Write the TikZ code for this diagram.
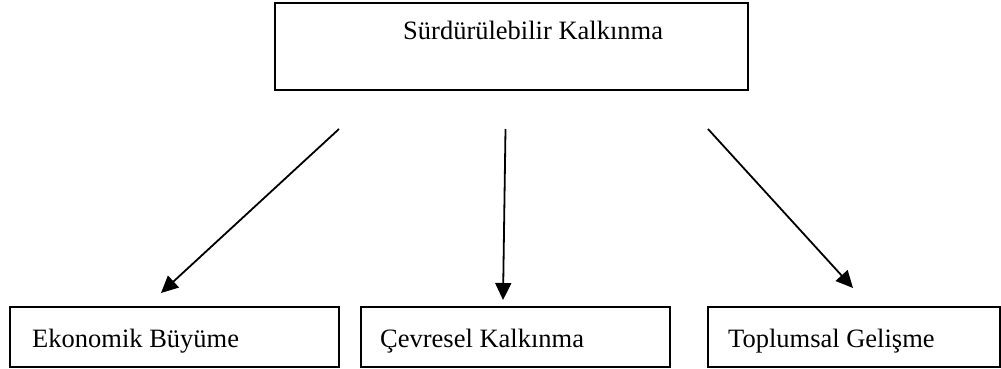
\documentclass[tikz,border=0pt]{standalone}
\usepackage{fontspec}
\setmainfont{Liberation Serif}
\usetikzlibrary{arrows.meta}
\begin{document}
\begin{tikzpicture}[x=1pt,y=-1pt,
  box/.style={draw,line width=2pt,inner sep=0pt},
  lbl/.style={anchor=base west,inner sep=0pt,font=\fontsize{26.5}{30}\selectfont},
  link/.style={line width=1.8pt,-{Triangle[length=17pt,width=16pt]}}]
\useasboundingbox (0,0) rectangle (1001,369);

% main box
\node[box,minimum width=473pt,minimum height=87pt] (top) at (511.5,46.5) {};
\node[lbl] (toptext) at (403,40) {Sürdürülebilir Kalkınma};

% bottom boxes
\node[box,minimum width=329pt,minimum height=60pt] (eko) at (174.5,337) {};
\node[lbl] (ekotext) at (32,347) {Ekonomik Büyüme};
\node[box,minimum width=309pt,minimum height=60pt] (cev) at (515.5,337) {};
\node[lbl] (cevtext) at (380,347) {Çevresel Kalkınma};
\node[box,minimum width=292pt,minimum height=60pt] (top3) at (854,337) {};
\node[lbl] (toptext3) at (728,347) {Toplumsal Gelişme};

% arrow ends
\coordinate (a1) at (339,129);
\coordinate (b1) at (161,293);
\coordinate (a2) at (505.5,129);
\coordinate (b2) at (503,300);
\coordinate (a3) at (708,129);
\coordinate (b3) at (853,288);

\draw[link] (a1) -- (b1);
\draw[link] (a2) -- (b2);
\draw[link] (a3) -- (b3);
\end{tikzpicture}
\end{document}
